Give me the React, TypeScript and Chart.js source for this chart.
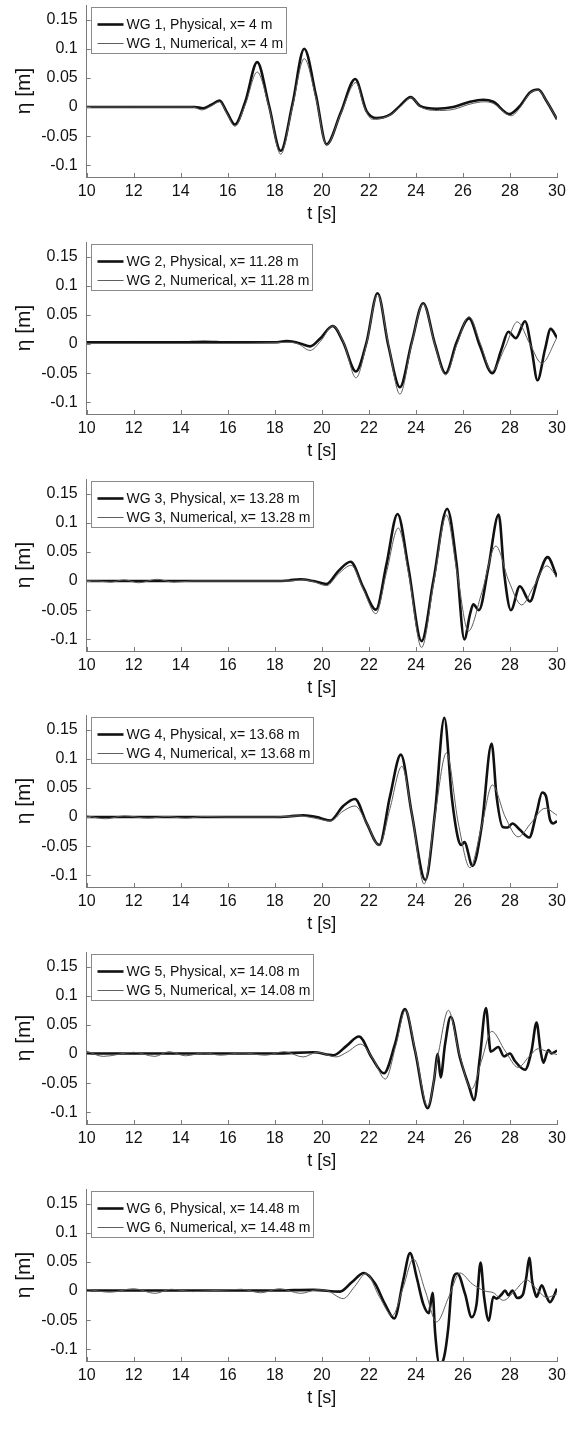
import React, { useEffect, useRef } from 'react';
import { Chart, registerables } from 'chart.js';

Chart.register(...registerables);

// ---------- axis / label data ----------
const X_TICKS = [10, 12, 14, 16, 18, 20, 22, 24, 26, 28, 30];
const Y_TICKS = [-0.1, -0.05, 0, 0.05, 0.1, 0.15];
const PROBES = ['WG 1', 'WG 2', 'WG 3', 'WG 4', 'WG 5', 'WG 6'];
const PROBE_X = ['4', '11.28', '13.28', '13.68', '14.08', '14.48'];

// ---------- WG 1 ----------
const wg1PhysT = [10, 12, 14, 14.6, 14.95, 15.3, 15.65, 15.95, 16.3, 16.75, 17.25, 17.75, 18.25, 18.75, 19.25, 19.75, 20.2, 20.8, 21.42, 21.9, 22.33, 22.9, 23.32, 23.78, 24.17, 24.88, 25.59, 26.3, 26.86, 27.29, 27.97, 28.42, 28.85, 29.2, 29.56, 30];
const wg1PhysEta = [0, 0, 0, 0, -0.002, 0.004, 0.011, -0.008, -0.030, 0.010, 0.077, 0.003, -0.075, 0.005, 0.100, 0.020, -0.064, -0.010, 0.048, -0.007, -0.019, -0.013, 0.002, 0.017, 0.002, -0.003, 0, 0.009, 0.0125, 0.009, -0.012, 0.002, 0.025, 0.030, 0.010, -0.021];
const wg1NumT = [10, 12, 14, 14.5, 14.9, 15.3, 15.65, 15.95, 16.3, 16.75, 17.25, 17.75, 18.25, 18.75, 19.25, 19.75, 20.2, 20.8, 21.45, 21.8, 22.15, 22.9, 23.32, 23.8, 24.2, 25.0, 25.6, 26.3, 26.9, 27.3, 28.05, 28.45, 28.85, 29.2, 29.56, 30];
const wg1NumEta = [0, 0, 0, 0, -0.005, 0.002, 0.009, -0.010, -0.033, 0.005, 0.060, 0.000, -0.081, 0.000, 0.083, 0.015, -0.065, -0.012, 0.042, 0.000, -0.021, -0.014, 0.000, 0.016, 0.000, -0.006, -0.004, 0.005, 0.009, 0.006, -0.015, 0.000, 0.024, 0.029, 0.010, -0.021];

// ---------- WG 2 ----------
const wg2PhysT = [10, 12, 14, 15, 16, 18, 18.5, 18.79, 19.15, 19.5, 19.92, 20.46, 20.91, 21.45, 21.9, 22.37, 22.83, 23.32, 23.82, 24.31, 24.81, 25.26, 25.73, 26.26, 26.72, 27.25, 27.64, 27.93, 28.25, 28.64, 28.92, 29.17, 29.49, 29.73, 30];
const wg2PhysEta = [0.003, 0.003, 0.003, 0.004, 0.003, 0.003, 0.005, 0.004, 0.000, -0.004, 0.009, 0.031, 0.003, -0.047, 0.003, 0.087, -0.003, -0.074, 0.003, 0.070, 0.000, -0.050, 0.003, 0.044, -0.003, -0.050, -0.009, 0.021, 0.010, 0.039, -0.009, -0.062, -0.009, 0.026, 0.011];
const wg2NumT = [10, 12, 14, 16, 18, 18.6, 19.0, 19.5, 19.95, 20.46, 20.95, 21.45, 21.9, 22.37, 22.83, 23.32, 23.82, 24.31, 24.8, 25.26, 25.75, 26.26, 26.75, 27.22, 27.8, 28.31, 28.85, 29.35, 30];
const wg2NumEta = [0.001, 0.001, 0.001, 0.001, 0.002, 0.003, 0.000, -0.011, 0.005, 0.031, 0.000, -0.058, 0.000, 0.085, 0.000, -0.086, 0.000, 0.069, 0.000, -0.053, 0.000, 0.047, 0.000, -0.047, -0.005, 0.038, 0.000, -0.033, 0.011];

// ---------- WG 3 ----------
const wg3PhysT = [10, 12, 14, 16, 18, 18.6, 19.07, 19.64, 20.2, 20.7, 21.22, 21.76, 22.3, 22.75, 23.22, 23.68, 24.24, 24.74, 25.33, 25.73, 26.06, 26.3, 26.44, 26.68, 27.08, 27.52, 27.76, 28.04, 28.42, 28.85, 29.2, 29.6, 30];
const wg3PhysEta = [0, 0, 0, 0, 0, 0.001, 0.003, 0.000, -0.005, 0.017, 0.033, -0.011, -0.049, 0.029, 0.115, 0.023, -0.103, 0.000, 0.124, 0.029, -0.100, -0.057, -0.040, -0.050, 0.023, 0.114, 0.011, -0.050, -0.009, -0.035, 0.006, 0.041, 0.007];
const wg3NumT = [10, 10.5, 11.0, 11.6, 12.2, 13.0, 13.7, 14.5, 16, 18, 18.6, 19.2, 19.64, 20.2, 20.7, 21.25, 21.76, 22.3, 22.75, 23.25, 23.7, 24.24, 24.77, 25.3, 25.75, 26.23, 26.8, 27.4, 27.95, 28.5, 29.0, 29.56, 30];
const wg3NumEta = [0, 0, -0.002, 0.002, -0.003, 0.003, -0.002, 0, 0, 0, 0.000, 0.002, -0.001, -0.008, 0.012, 0.027, -0.014, -0.056, 0.015, 0.091, 0.010, -0.114, 0.000, 0.113, 0.015, -0.086, -0.020, 0.060, 0.000, -0.041, -0.010, 0.026, 0.007];

// ---------- WG 4 ----------
const wg4PhysT = [10, 12, 14, 16, 18, 18.6, 19.21, 19.78, 20.35, 20.91, 21.41, 21.9, 22.44, 22.9, 23.36, 23.82, 24.4, 24.81, 25.21, 25.52, 25.8, 25.94, 26.06, 26.41, 26.8, 27.22, 27.43, 27.69, 27.9, 28.1, 28.42, 28.82, 29.13, 29.37, 29.53, 29.7, 29.84, 30];
const wg4PhysEta = [0, 0, 0, 0, 0, 0.001, 0.003, 0.000, -0.006, 0.019, 0.031, -0.010, -0.048, 0.036, 0.107, 0.007, -0.108, 0.007, 0.170, 0.036, -0.038, -0.048, -0.043, -0.084, -0.015, 0.126, 0.036, -0.017, -0.018, -0.011, -0.022, -0.035, 0.007, 0.042, 0.036, -0.004, -0.011, -0.007];
const wg4NumT = [10, 10.8, 11.6, 12.6, 13.4, 14.2, 15, 16, 17, 18, 19, 19.7, 20.35, 20.9, 21.41, 21.9, 22.44, 22.9, 23.4, 23.85, 24.35, 24.8, 25.3, 25.8, 26.3, 26.8, 27.25, 27.8, 28.35, 28.9, 29.49, 30];
const wg4NumEta = [0.002, -0.003, 0.002, -0.002, 0.001, -0.002, 0.001, 0, 0, 0, 0.002, -0.002, -0.007, 0.010, 0.019, -0.010, -0.049, 0.015, 0.087, 0.000, -0.115, 0.000, 0.110, -0.010, -0.087, -0.015, 0.055, 0.000, -0.034, -0.010, 0.015, 0.003];

// ---------- WG 5 ----------
const wg5PhysT = [10, 12, 14, 16, 18, 19.64, 20.49, 21.05, 21.58, 22.12, 22.64, 23.11, 23.53, 23.96, 24.5, 24.77, 24.93, 25.05, 25.24, 25.48, 25.87, 26.27, 26.47, 26.72, 26.98, 27.18, 27.5, 27.75, 28.0, 28.21, 28.64, 28.92, 29.13, 29.3, 29.42, 29.63, 29.77, 30];
const wg5PhysEta = [0.001, 0.001, 0.001, 0.001, 0.001, 0.003, -0.002, 0.014, 0.030, -0.006, -0.033, 0.017, 0.077, 0.006, -0.093, -0.045, 0.000, -0.040, 0.017, 0.064, -0.006, -0.057, -0.079, -0.006, 0.079, 0.004, 0.012, -0.004, 0.001, -0.012, -0.027, 0.006, 0.054, 0.006, -0.015, 0.007, 0.001, 0.006];
const wg5NumT = [10, 10.7, 12.0, 12.9, 13.5, 14.2, 15.0, 15.7, 16.6, 17.6, 18.4, 19.2, 19.8, 20.6, 21.1, 21.65, 22.2, 22.7, 23.15, 23.55, 24.0, 24.5, 24.95, 25.38, 25.85, 26.37, 26.8, 27.22, 27.8, 28.35, 28.8, 29.2, 29.6, 30];
const wg5NumEta = [0.005, -0.004, 0.003, -0.004, 0.004, -0.003, 0.002, -0.002, 0.002, -0.002, 0.004, -0.005, 0.003, -0.005, 0.004, 0.017, -0.010, -0.043, 0.015, 0.075, 0.000, -0.089, 0.000, 0.075, 0.000, -0.060, -0.010, 0.039, 0.005, -0.023, -0.005, 0.009, 0.004, -0.001];

// ---------- WG 6 ----------
const wg6PhysT = [10, 12, 14, 16, 18, 19.64, 20.77, 21.27, 21.79, 22.26, 22.68, 23.08, 23.46, 23.75, 24.03, 24.31, 24.55, 24.71, 24.82, 25.0, 25.15, 25.38, 25.52, 25.76, 26.09, 26.37, 26.58, 26.75, 26.9, 27.1, 27.29, 27.43, 27.64, 27.79, 27.93, 28.1, 28.31, 28.55, 28.7, 28.82, 28.95, 29.05, 29.13, 29.35, 29.56, 29.7, 30];
const wg6PhysEta = [0.001, 0.001, 0.001, 0.001, 0.001, 0.002, -0.001, 0.015, 0.031, 0.013, -0.022, -0.047, 0.018, 0.065, 0.024, -0.022, -0.038, -0.003, -0.073, -0.125, -0.120, -0.062, 0.007, 0.030, -0.005, -0.045, -0.022, 0.049, -0.010, -0.051, -0.010, -0.013, -0.006, 0.001, -0.007, 0.001, -0.012, -0.006, 0.025, 0.057, 0.015, -0.002, -0.010, 0.010, -0.010, -0.019, 0.004];
const wg6NumT = [10, 11, 12.0, 12.9, 13.6, 14.5, 15.5, 16.6, 17.4, 18.2, 19.1, 19.8, 20.2, 20.91, 21.4, 21.88, 22.45, 23.0, 23.45, 23.89, 24.4, 24.88, 25.4, 25.87, 26.4, 26.94, 27.3, 27.72, 28.2, 28.71, 29.1, 29.56, 30];
const wg6NumEta = [0.003, -0.002, 0.004, -0.004, 0.003, -0.001, 0.001, 0.003, -0.003, 0.004, -0.004, 0.002, 0.001, -0.013, 0.008, 0.030, -0.010, -0.042, 0.005, 0.055, 0.000, -0.053, -0.010, 0.031, 0.012, 0.000, -0.003, -0.016, 0.000, 0.019, 0.005, -0.011, -0.005];

const PHYS_T = [wg1PhysT, wg2PhysT, wg3PhysT, wg4PhysT, wg5PhysT, wg6PhysT];
const PHYS_ETA = [wg1PhysEta, wg2PhysEta, wg3PhysEta, wg4PhysEta, wg5PhysEta, wg6PhysEta];
const NUM_T = [wg1NumT, wg2NumT, wg3NumT, wg4NumT, wg5NumT, wg6NumT];
const NUM_ETA = [wg1NumEta, wg2NumEta, wg3NumEta, wg4NumEta, wg5NumEta, wg6NumEta];

// ---------- styling ----------
const FONT = '"Liberation Sans", Arial, Helvetica, sans-serif';
const PANEL_H = 236.8;
const CANVAS_H = 237;
const AXIS_COLOR = '#7a7a7a';
const TEXT_COLOR = '#111111';
const PHYS_COLOR = '#111111';
const NUM_COLOR = '#5e5e5e';

const toPoints = (t: number[], e: number[]) => t.map((x, i) => ({ x, y: e[i] }));

const framePlugin = {
  id: 'matlabFrame',
  afterDraw(chart: any) {
    const { ctx, chartArea: a, scales } = chart;
    const xs = scales.x;
    const ys = scales.y;
    ctx.save();
    // inward tick marks
    ctx.strokeStyle = AXIS_COLOR;
    ctx.lineWidth = 1;
    ctx.beginPath();
    X_TICKS.forEach((v) => {
      const px = Math.round(xs.getPixelForValue(v)) + 0.5;
      ctx.moveTo(px, a.bottom);
      ctx.lineTo(px, a.bottom - 4);
    });
    Y_TICKS.forEach((v) => {
      const py = Math.round(ys.getPixelForValue(v)) + 0.5;
      ctx.moveTo(a.left, py);
      ctx.lineTo(a.left + 4, py);
    });
    ctx.stroke();

    // legend box
    const ds = chart.data.datasets;
    ctx.font = `14px ${FONT}`;
    const tw = Math.max(...ds.map((d: any) => ctx.measureText(d.label).width));
    const bx = Math.round(a.left + 4) + 0.5;
    const by = Math.round(a.top + 2) + 0.5;
    const bw = Math.round(35 + tw + 3);
    const bh = 46;
    ctx.fillStyle = '#ffffff';
    ctx.fillRect(bx, by, bw, bh);
    ctx.strokeStyle = '#8a8a8a';
    ctx.lineWidth = 1;
    ctx.strokeRect(bx, by, bw, bh);
    ds.forEach((d: any, i: number) => {
      const yy = by + 17 + i * 19;
      ctx.beginPath();
      ctx.strokeStyle = d.borderColor;
      ctx.lineWidth = d.borderWidth;
      ctx.moveTo(bx + 6, yy);
      ctx.lineTo(bx + 32, yy);
      ctx.stroke();
      ctx.fillStyle = TEXT_COLOR;
      ctx.textBaseline = 'middle';
      ctx.textAlign = 'left';
      ctx.fillText(d.label, bx + 35, yy + 0.5);
    });
    ctx.restore();
  },
};

function Panel({ index }: { index: number }) {
  const ref = useRef<HTMLCanvasElement | null>(null);
  useEffect(() => {
    if (!ref.current) return;
    const probe = PROBES[index];
    const xpos = PROBE_X[index];
    const chart = new Chart(ref.current, {
      type: 'line',
      data: {
        datasets: [
          {
            label: `${probe}, Physical, x= ${xpos} m`,
            data: toPoints(PHYS_T[index], PHYS_ETA[index]),
            borderColor: PHYS_COLOR,
            borderWidth: 2.6,
            pointRadius: 0,
            cubicInterpolationMode: 'monotone',
            fill: false,
            order: 1,
          },
          {
            label: `${probe}, Numerical, x= ${xpos} m`,
            data: toPoints(NUM_T[index], NUM_ETA[index]),
            borderColor: NUM_COLOR,
            borderWidth: 1,
            pointRadius: 0,
            cubicInterpolationMode: 'monotone',
            fill: false,
            order: 0,
          },
        ],
      },
      options: {
        responsive: false,
        animation: false,
        devicePixelRatio: 1,
        layout: { padding: { left: 0, right: 19, top: 5, bottom: 0 } },
        plugins: {
          legend: { display: false },
          tooltip: { enabled: false },
        },
        scales: {
          x: {
            type: 'linear',
            min: 10,
            max: 30,
            afterBuildTicks: (s: any) => {
              s.ticks = X_TICKS.map((v) => ({ value: v }));
            },
            afterFit: (s: any) => {
              s.height = CANVAS_H - 177;
              s.paddingLeft = 0;
              s.paddingRight = 0;
            },
            ticks: {
              autoSkip: false,
              maxRotation: 0,
              padding: 5,
              color: TEXT_COLOR,
              font: { family: FONT, size: 16 },
              callback: (v: any) => String(v),
            },
            grid: { display: false, drawTicks: false },
            border: { display: true, color: AXIS_COLOR, width: 1 },
            title: {
              display: true,
              text: 't [s]',
              color: TEXT_COLOR,
              font: { family: FONT, size: 18 },
              padding: { top: 0, bottom: 12 },
            },
          },
          y: {
            type: 'linear',
            min: -0.12,
            max: 0.175,
            afterBuildTicks: (s: any) => {
              s.ticks = Y_TICKS.map((v) => ({ value: v }));
            },
            afterFit: (s: any) => {
              s.width = 86.7;
              s.paddingTop = 0;
              s.paddingBottom = 0;
            },
            ticks: {
              padding: 9,
              color: TEXT_COLOR,
              font: { family: FONT, size: 16 },
              callback: (v: any) => String(Math.round(Number(v) * 1000) / 1000),
            },
            grid: { display: false, drawTicks: false },
            border: { display: true, color: AXIS_COLOR, width: 1 },
            title: {
              display: true,
              text: 'η [m]',
              color: TEXT_COLOR,
              font: { family: FONT, size: 21 },
              padding: { top: 12, bottom: 0 },
            },
          },
        },
      } as any,
      plugins: [framePlugin],
    } as any);
    return () => chart.destroy();
  }, [index]);

  return (
    <canvas
      ref={ref}
      width={576}
      height={CANVAS_H}
      style={{
        position: 'absolute',
        left: 0,
        top: Math.round(index * PANEL_H),
        width: 576,
        height: CANVAS_H,
      }}
    />
  );
}

export default function App() {
  return (
    <div
      style={{
        position: 'absolute',
        left: 0,
        top: 0,
        width: 576,
        height: 1445,
        background: '#ffffff',
      }}
    >
      {PROBES.map((_, i) => (
        <Panel key={i} index={i} />
      ))}
    </div>
  );
}
